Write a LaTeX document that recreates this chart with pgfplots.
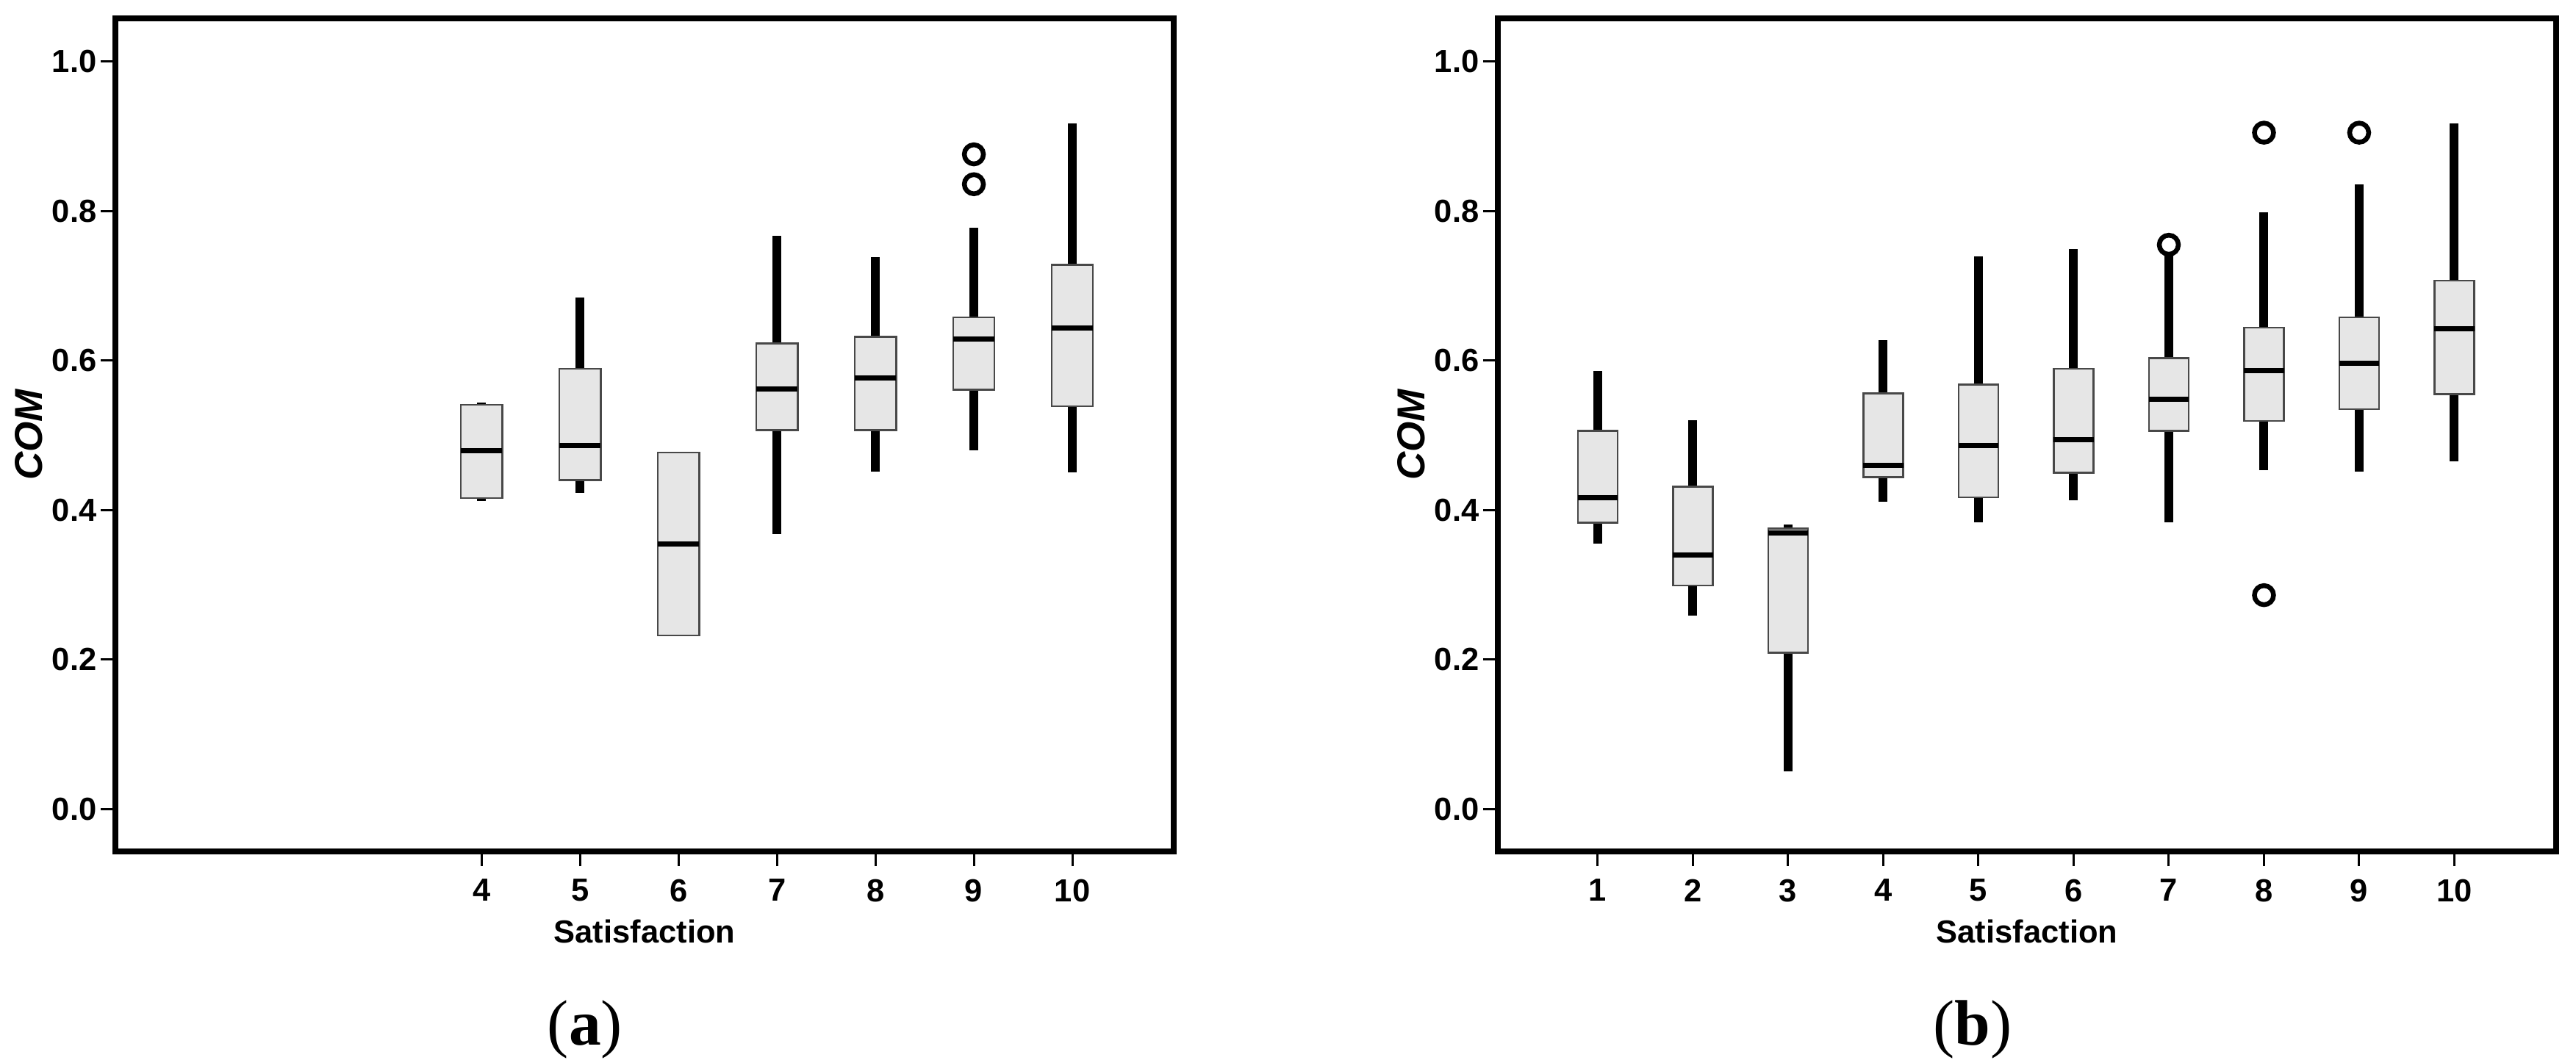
\documentclass[border=0pt]{standalone}
\usepackage{fontspec}
\setmainfont{Liberation Sans}
\newfontfamily\capfont{Liberation Serif}
\usepackage{pgfplots}
\usepgfplotslibrary{statistics}
\pgfplotsset{compat=1.18}
\definecolor{boxfill}{HTML}{E6E6E6}
\definecolor{boxedge}{HTML}{484848}

\pgfplotsset{
  spss/.style={
    scale only axis,
    width=288pt, height=226.8pt,
    ymin=-0.057, ymax=1.058,
    ytick={0,0.2,0.4,0.6,0.8,1.0},
    yticklabels={0.0,0.2,0.4,0.6,0.8,1.0},
    tick align=outside,
    xtick pos=bottom, ytick pos=left,
    major tick length=4pt,
    tick style={line width=0.6pt, black},
    axis line style={line width=1.6pt},
    tick label style={font=\fontsize{8.7}{10}\selectfont\bfseries},
    yticklabel style={xshift=2.4pt},
    every axis x label/.style={at={(axis description cs:0.5,-0.1094)}, anchor=base,
      font=\fontsize{8.7}{10}\selectfont\bfseries},
    every axis y label/.style={at={(axis description cs:-0.082,0.5)}, anchor=center, rotate=90,
      font=\fontsize{10.6}{12}\selectfont\bfseries\itshape},
    xlabel={Satisfaction}, ylabel={COM},
    boxplot/draw direction=y,
    boxplot/every box/.style={draw=boxedge, line width=0.5pt, fill=boxfill},
    boxplot/every whisker/.style={black, line width=2.4pt, line cap=butt},
    boxplot/every median/.style={black, line width=1.4pt},
    boxplot/box extend=0.42,
    boxplot/whisker extend=0,
  },
  bx/.style={black, mark=o, mark size=2.6pt, mark options={line width=1.3pt, black}},
}

\begin{document}
\begin{tikzpicture}
\path[use as bounding box] (0,0) rectangle (701pt,289.2pt);

% panel (a)
\begin{axis}[spss, at={(31.4pt,57.4pt)}, anchor=south west,
  xmin=0.28, xmax=11.03, xtick={4,5,6,7,8,9,10}, xticklabels={4,5,6,7,8,9,10}]
\addplot[bx, boxplot prepared={draw position=4, lower whisker=0.412, lower quartile=0.416,
  median=0.479, upper quartile=0.541, upper whisker=0.544}] coordinates {};
\addplot[bx, boxplot prepared={draw position=5, lower whisker=0.423, lower quartile=0.440,
  median=0.486, upper quartile=0.589, upper whisker=0.684}] coordinates {};
\addplot[bx, boxplot prepared={draw position=6, lower whisker=0.232, lower quartile=0.232,
  median=0.354, upper quartile=0.477, upper whisker=0.477}] coordinates {};
\addplot[bx, boxplot prepared={draw position=7, lower whisker=0.368, lower quartile=0.507,
  median=0.562, upper quartile=0.623, upper whisker=0.767}] coordinates {};
\addplot[bx, boxplot prepared={draw position=8, lower whisker=0.451, lower quartile=0.507,
  median=0.577, upper quartile=0.632, upper whisker=0.738}] coordinates {};
\addplot[bx, boxplot prepared={draw position=9, lower whisker=0.480, lower quartile=0.561,
  median=0.629, upper quartile=0.658, upper whisker=0.778}] coordinates {(0,0.876) (0,0.836)};
\addplot[bx, boxplot prepared={draw position=10, lower whisker=0.450, lower quartile=0.539,
  median=0.644, upper quartile=0.728, upper whisker=0.917}] coordinates {};
\end{axis}

% panel (b)
\begin{axis}[spss, at={(407.6pt,57.4pt)}, anchor=south west,
  xmin=-0.05, xmax=11.07, xtick={1,...,10}, xticklabels={1,2,3,4,5,6,7,8,9,10}]
\addplot[bx, boxplot prepared={draw position=1, lower whisker=0.355, lower quartile=0.383,
  median=0.416, upper quartile=0.506, upper whisker=0.586}] coordinates {};
\addplot[bx, boxplot prepared={draw position=2, lower whisker=0.259, lower quartile=0.299,
  median=0.340, upper quartile=0.431, upper whisker=0.520}] coordinates {};
\addplot[bx, boxplot prepared={draw position=3, lower whisker=0.050, lower quartile=0.209,
  median=0.369, upper quartile=0.375, upper whisker=0.381}] coordinates {};
\addplot[bx, boxplot prepared={draw position=4, lower whisker=0.411, lower quartile=0.444,
  median=0.460, upper quartile=0.556, upper whisker=0.627}] coordinates {};
\addplot[bx, boxplot prepared={draw position=5, lower whisker=0.383, lower quartile=0.417,
  median=0.486, upper quartile=0.568, upper whisker=0.739}] coordinates {};
\addplot[bx, boxplot prepared={draw position=6, lower whisker=0.413, lower quartile=0.450,
  median=0.494, upper quartile=0.589, upper whisker=0.749}] coordinates {};
\addplot[bx, boxplot prepared={draw position=7, lower whisker=0.383, lower quartile=0.506,
  median=0.548, upper quartile=0.603, upper whisker=0.741}] coordinates {(0,0.755)};
\addplot[bx, boxplot prepared={draw position=8, lower whisker=0.453, lower quartile=0.519,
  median=0.587, upper quartile=0.644, upper whisker=0.798}] coordinates {(0,0.905) (0,0.286)};
\addplot[bx, boxplot prepared={draw position=9, lower whisker=0.451, lower quartile=0.535,
  median=0.596, upper quartile=0.658, upper whisker=0.836}] coordinates {(0,0.905)};
\addplot[bx, boxplot prepared={draw position=10, lower whisker=0.465, lower quartile=0.555,
  median=0.643, upper quartile=0.707, upper whisker=0.917}] coordinates {};
\end{axis}

\node[inner sep=0pt, font=\capfont\fontsize{17.5}{20}\selectfont] at (159.2pt,9pt) {(\textbf{a})};
\node[inner sep=0pt, font=\capfont\fontsize{17.5}{20}\selectfont] at (536.8pt,9pt) {(\textbf{b})};
\end{tikzpicture}
\end{document}
